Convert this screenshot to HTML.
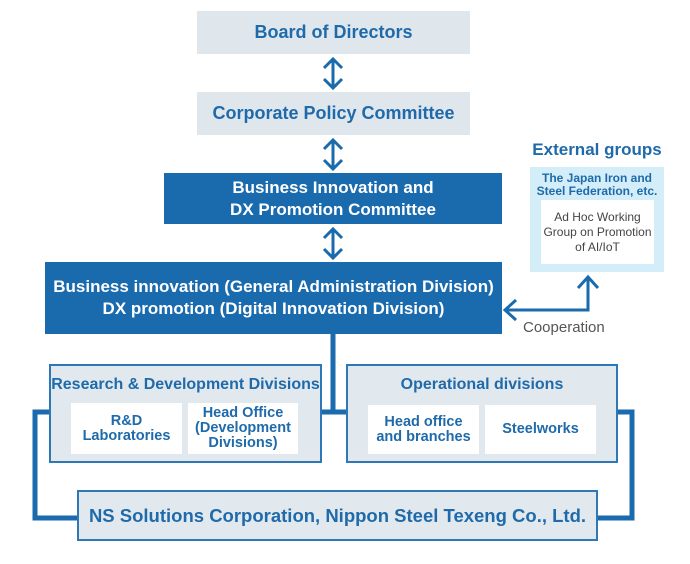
<!DOCTYPE html>
<html><head><style>
body{margin:0;width:690px;height:564px;background:#fff;font-family:"Liberation Sans",sans-serif;position:relative;overflow:hidden}
.b{position:absolute;display:flex;align-items:center;justify-content:center;text-align:center;font-weight:bold;box-sizing:border-box}
.g{background:#dfe7ed;color:#1f6aaa;font-size:18px}
.d{background:#1a6aae;color:#fff;font-size:17px;line-height:22px}
.o{background:#e2e9ee;border:2px solid #2f78b8}
.w{background:#fff;color:#1f6aaa;font-size:14.5px;line-height:15px}
</style></head><body>
<svg width="690" height="564" style="position:absolute;left:0;top:0">
<g stroke="#1a6aae" stroke-width="3" fill="none">
<path d="M333 60V87M324 68L333 59L342 68M324 79L333 88L342 79"/>
<path d="M333 141V168M324 149L333 140L342 149M324 160L333 169L342 160"/>
<path d="M333 230V257M324 238L333 229L342 238M324 249L333 258L342 249"/>
<path d="M588 278V310H506M578 288L588 277L598 288M516 300L505 310L516 320"/>
</g>
<g stroke="#1a6aae" stroke-width="5" fill="none">
<path d="M333 334V412M320 412H348"/>
<path d="M50 412H35V518H78"/>
<path d="M617 412H632V518H597"/>
</g>
</svg>
<div class="b g" style="left:197px;top:11px;width:273px;height:43px">Board of Directors</div>
<div class="b g" style="left:197px;top:92px;width:273px;height:43px">Corporate Policy Committee</div>
<div class="b d" style="left:164px;top:173px;width:338px;height:51px">Business Innovation and<br>DX Promotion Committee</div>
<div class="b d" style="left:45px;top:262px;width:457px;height:72px">Business innovation (General Administration Division)<br>DX promotion (Digital Innovation Division)</div>
<div class="b o" style="left:49px;top:364px;width:273px;height:99px;align-items:flex-start;padding-top:10px;color:#1f6aaa;font-size:16px;white-space:nowrap">Research &amp; Development Divisions</div>
<div class="b o" style="left:346px;top:364px;width:272px;height:99px;align-items:flex-start;padding-top:10px;color:#1f6aaa;font-size:16px">Operational divisions</div>
<div class="b w" style="left:71px;top:403px;width:111px;height:51px">R&amp;D<br>Laboratories</div>
<div class="b w" style="left:188px;top:403px;width:110px;height:51px">Head Office<br>(Development<br>Divisions)</div>
<div class="b w" style="left:368px;top:405px;width:111px;height:49px">Head office<br>and branches</div>
<div class="b w" style="left:485px;top:405px;width:111px;height:49px">Steelworks</div>
<div class="b o" style="left:77px;top:490px;width:521px;height:51px;color:#1f6aaa;font-size:18.5px">NS Solutions Corporation, Nippon Steel Texeng Co., Ltd.</div>
<div class="b" style="left:522px;top:139px;width:150px;height:22px;color:#1f6aaa;font-size:17px">External groups</div>
<div class="b" style="left:530px;top:167px;width:134px;height:105px;background:#d3edf9;align-items:flex-start;padding-top:5px;color:#1f6aaa;font-size:12px;line-height:13px">The Japan Iron and<br>Steel Federation, etc.</div>
<div class="b" style="left:541px;top:200px;width:113px;height:64px;background:#fff;color:#444;font-weight:normal;font-size:12px;line-height:15px">Ad Hoc Working<br>Group on Promotion<br>of AI/IoT</div>
<div style="position:absolute;left:523px;top:319px;color:#555;font-size:15px">Cooperation</div>
</body></html>
